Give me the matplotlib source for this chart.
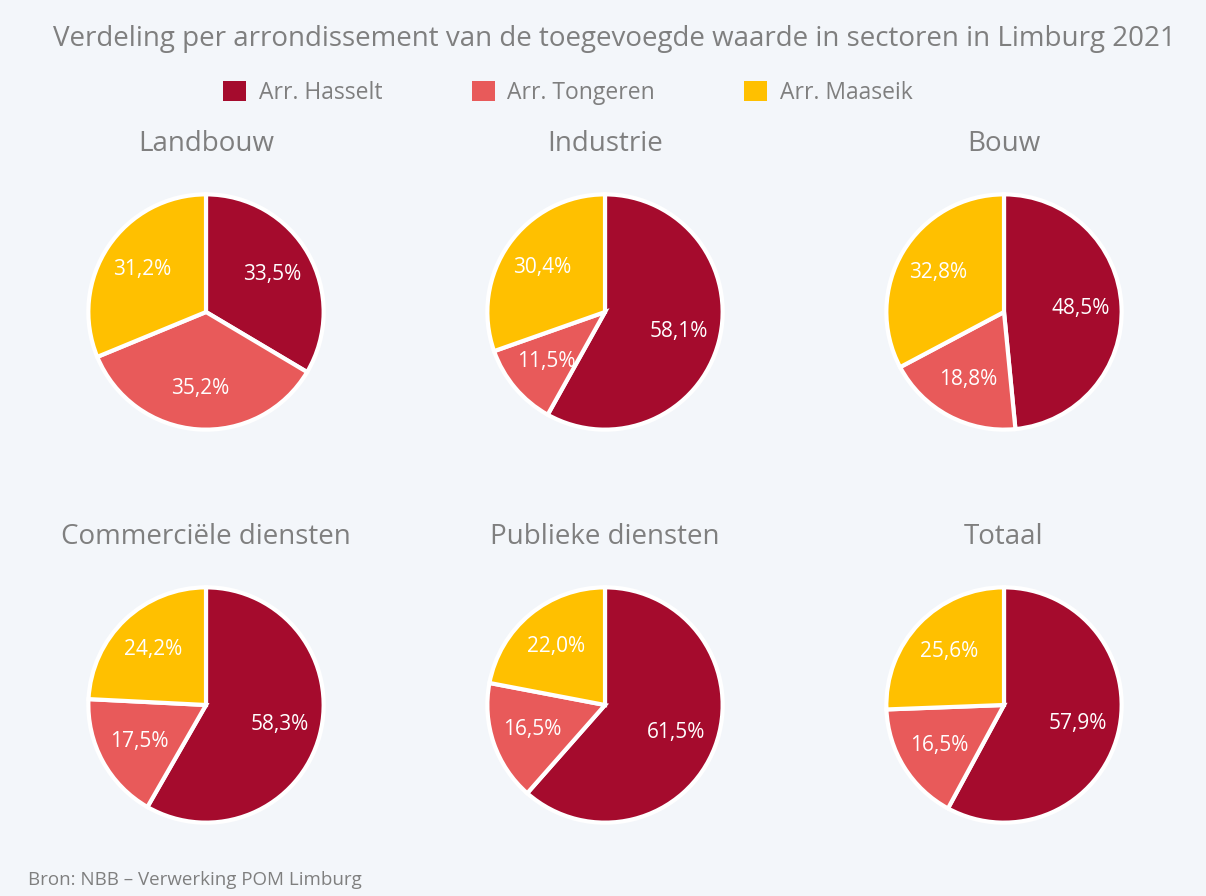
import matplotlib.pyplot as plt
from matplotlib.patches import Patch
import numpy as np

plt.rcParams['font.family'] = ['Open Sans', 'DejaVu Sans']

sectors = ["Landbouw", "Industrie", "Bouw",
           "Commerciële diensten", "Publieke diensten", "Totaal"]
regions = ["Arr. Hasselt", "Arr. Tongeren", "Arr. Maaseik"]
hasselt = [33.5, 58.1, 48.5, 58.3, 61.5, 57.9]
tongeren = [35.2, 11.5, 18.8, 17.5, 16.5, 16.5]
maaseik = [31.2, 30.4, 32.8, 24.2, 22.0, 25.6]

colors = ["#A50B2D", "#E85A5A", "#FFC000"]
bg = "#F3F6FA"
grey = "#7F7F7F"

W, H = 1206, 896
fig = plt.figure(figsize=(W / 100, H / 100), dpi=100, facecolor=bg)

centers_x = [206, 605, 1004]
centers_y = [312, 705]
R = 120

for i, name in enumerate(sectors):
    cx = centers_x[i % 3]
    cy = centers_y[i // 3]
    ax = fig.add_axes([(cx - R) / W, 1 - (cy + R) / H, 2 * R / W, 2 * R / H])
    ax.set_facecolor(bg)
    vals = [hasselt[i], tongeren[i], maaseik[i]]
    wedges, _ = ax.pie(vals, colors=colors, startangle=90, counterclock=False,
                       radius=1.0,
                       wedgeprops=dict(edgecolor="white", linewidth=3))
    for w, v in zip(wedges, vals):
        ang = np.deg2rad((w.theta1 + w.theta2) / 2)
        ax.text(0.65 * np.cos(ang), 0.65 * np.sin(ang),
                f"{v:.1f}%".replace(".", ","), ha="center", va="center",
                color="white", fontsize=15)
    ax.set_xlim(-1.02, 1.02)
    ax.set_ylim(-1.02, 1.02)
    ax.set_aspect("equal")
    fig.text(cx / W, 1 - (cy - 168) / H, name, ha="center", va="center",
             fontsize=20, color=grey)

fig.text(614 / W, 1 - 39 / H,
         "Verdeling per arrondissement van de toegevoegde waarde in sectoren in Limburg 2021",
         ha="center", va="center", fontsize=20, color=grey)

handles = [Patch(facecolor=c, edgecolor="none") for c in colors]
fig.legend(handles, regions, loc="center", bbox_to_anchor=(568 / W, 1 - 93 / H),
           ncol=3, frameon=False, fontsize=16.5, labelcolor=grey,
           handlelength=1.0, handleheight=1.0, handletextpad=0.55,
           columnspacing=3.9)

fig.text(28 / W, 1 - 880 / H, "Bron: NBB – Verwerking POM Limburg",
         ha="left", va="center", fontsize=13.5, color=grey)

fig.savefig("out.png", dpi=100, facecolor=bg)
